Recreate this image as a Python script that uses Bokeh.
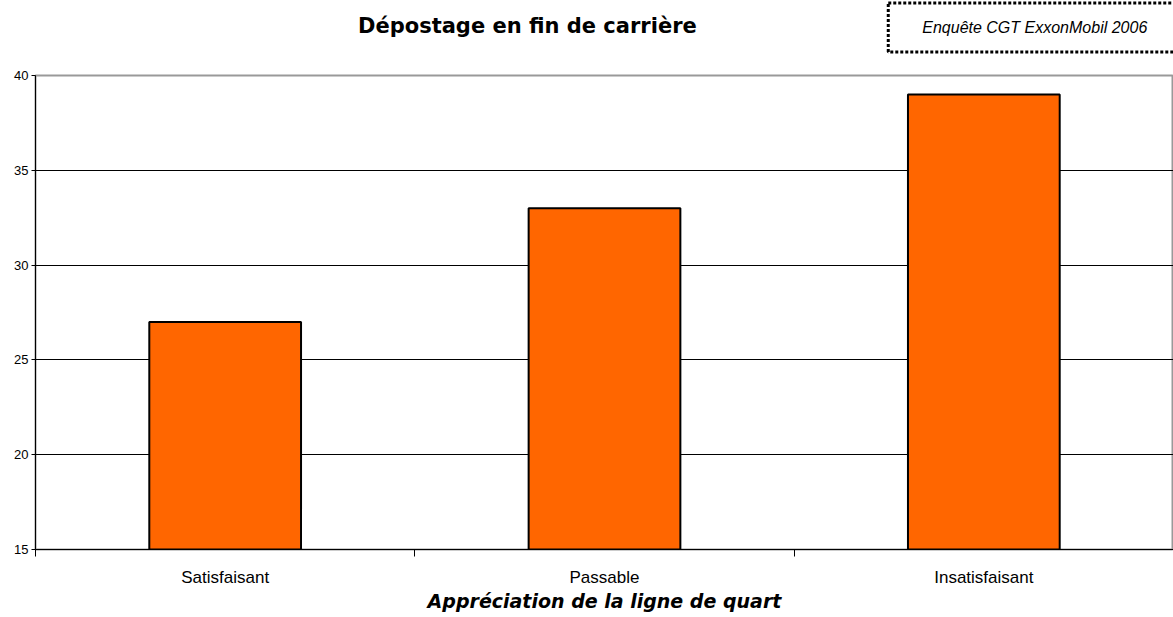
from bokeh.plotting import figure
from bokeh.layouts import column
from bokeh.models import FixedTicker, Range1d, Label, ColumnDataSource
from bokeh.embed import file_html
from bokeh.resources import INLINE

categories = ["Satisfaisant", "Passable", "Insatisfaisant"]
values = [27, 33, 39]
y_ticks = [15, 20, 25, 30, 35, 40]

title_text = "Dépostage en fin de carrière"
source_text = "Enquête CGT ExxonMobil 2006"
x_label = "Appréciation de la ligne de quart"

W = 1173
HEAD_H = 60

# ---------- header (title + source box) ----------
head = figure(width=W, height=HEAD_H, output_backend="svg", toolbar_location=None,
              x_range=Range1d(0, W), y_range=Range1d(0, HEAD_H),
              min_border=0, min_border_left=0, min_border_right=0,
              min_border_top=0, min_border_bottom=0)
head.axis.visible = False
head.grid.visible = False
head.outline_line_color = None
head.background_fill_color = "white"
head.border_fill_color = "white"
head.add_layout(Label(x=507, y=HEAD_H - 25, text=title_text,
                      text_font="DejaVu Sans", text_font_style="bold", text_font_size="21px",
                      text_align="center", text_baseline="middle", text_color="black"))
head.add_layout(Label(x=1030, y=HEAD_H - 27, text=source_text,
                      text_font="Liberation Sans", text_font_style="italic", text_font_size="16px",
                      text_align="center", text_baseline="middle", text_color="black",
                      border_line_color="black", border_line_width=3, border_line_dash="3 2",
                      background_fill_color="white",
                      padding=dict(left=34, right=34, top=16, bottom=16)))

# ---------- chart ----------
xs = [i + 0.5 for i in range(len(categories))]
src = ColumnDataSource(dict(x=xs, top=values, cat=categories))

p = figure(width=W, height=617 - HEAD_H, output_backend="svg", toolbar_location=None,
           x_range=Range1d(0, len(categories)), y_range=Range1d(15, 40),
           min_border_left=35, min_border_right=0, min_border_top=75 - HEAD_H,
           min_border_bottom=68)
p.background_fill_color = "white"
p.border_fill_color = "white"
p.outline_line_color = "#999999"
p.outline_line_width = 2

p.vbar(x="x", top="top", bottom=15, width=0.4, source=src,
       fill_color="#FF6600", line_color="black", line_width=2)

p.xaxis.ticker = FixedTicker(ticks=xs, minor_ticks=list(range(len(categories) + 1)))
p.xaxis.major_label_overrides = {x: c for x, c in zip(xs, categories)}
p.xaxis.major_tick_line_color = None
p.xaxis.major_tick_out = 0
p.xaxis.major_tick_in = 0
p.xaxis.minor_tick_line_color = "black"
p.xaxis.minor_tick_out = 7
p.xaxis.minor_tick_in = 0
p.xaxis.axis_line_color = "black"
p.xaxis.axis_line_width = 1
p.xaxis.major_label_text_font = "Liberation Sans"
p.xaxis.major_label_text_font_size = "17px"
p.xaxis.major_label_text_color = "black"
p.xaxis.major_label_standoff = 11
p.xaxis.axis_label = x_label
p.xaxis.axis_label_text_font = "DejaVu Sans"
p.xaxis.axis_label_text_font_style = "bold italic"
p.xaxis.axis_label_text_font_size = "19px"
p.xaxis.axis_label_text_color = "black"
p.xaxis.axis_label_standoff = 0

p.yaxis.ticker = FixedTicker(ticks=y_ticks)
p.yaxis.minor_tick_line_color = None
p.yaxis.major_tick_out = 4
p.yaxis.major_tick_in = 0
p.yaxis.major_tick_line_color = "black"
p.yaxis.axis_line_color = "black"
p.yaxis.major_label_text_font = "Liberation Sans"
p.yaxis.major_label_text_font_size = "13px"
p.yaxis.major_label_text_color = "black"
p.yaxis.major_label_standoff = 3

p.xgrid.grid_line_color = None
p.ygrid.ticker = FixedTicker(ticks=y_ticks[1:-1])
p.ygrid.grid_line_color = "black"
p.ygrid.grid_line_width = 1

layout = column(head, p, spacing=0)
open("out.html", "w").write(file_html(layout, INLINE))
